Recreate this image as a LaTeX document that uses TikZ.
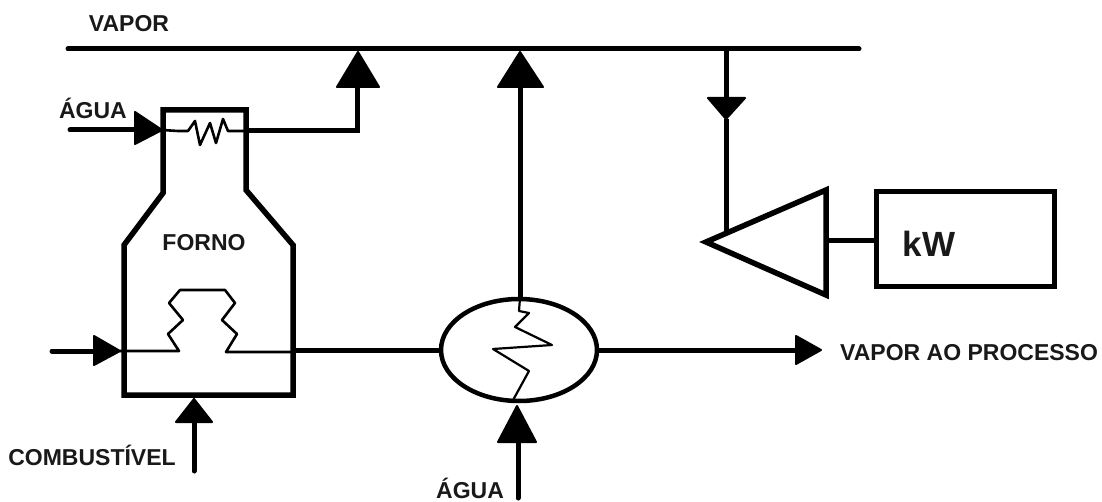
\documentclass[tikz,border=0pt]{standalone}
\usepackage{fontspec}
\usetikzlibrary{shapes.geometric}
\setmainfont{Liberation Sans}
\tikzset{
  thick line/.style={draw=black,line width=5pt,line cap=round,line join=miter},
  outline/.style={draw=black,line width=5.5pt,line join=miter},
  thin coil/.style={draw=black,line width=2.6pt,line join=round},
  head/.style={fill=black,draw=black,line width=2pt,line join=round},
  lbl/.style={font=\fontsize{23}{23}\bfseries\selectfont,inner sep=0pt,anchor=base,text=black!90}
}
\begin{document}
\begin{tikzpicture}[x=1pt,y=-1pt]
\useasboundingbox[fill=white] (0,0) rectangle (1102,502);
% bus
\coordinate (busL) at (68,49);
\coordinate (busR) at (859,49);
\draw[thick line] (busL) -- (busR);
% labels
\node[lbl] (vapor) at (129,32) {VAPOR};
\node[lbl] (aguaTop) at (93,119) {ÁGUA};
\node[lbl] (forno) at (204,251) {FORNO};
\node[lbl] (comb) at (92,465) {COMBUSTÍVEL};
\node[lbl] (aguaBot) at (470,498) {ÁGUA};
\node[lbl,anchor=base west] (proc) at (840,360) {VAPOR AO PROCESSO};
% furnace
\coordinate (f1) at (163,110); \coordinate (f2) at (246,110);
\coordinate (f3) at (246,190); \coordinate (f4) at (293,245);
\coordinate (f5) at (293,395); \coordinate (f6) at (124,395);
\coordinate (f7) at (124,245); \coordinate (f8) at (163,193);
\draw[outline] (f1) -- (f2) -- (f3) -- (f4) -- (f5) -- (f6) -- (f7) -- (f8) -- cycle;
% top water in + coil
\coordinate (wS) at (70,130); \coordinate (wH) at (135,130); \coordinate (wE) at (162,130);
\draw[thick line] (wS) -- (wH);
\draw[head] (135,112) -- (wE) -- (135,144) -- cycle;
\coordinate (cE) at (246,131);
\draw[thin coil] (wE) -- (178,131) -- (188,131) -- (195,121) -- (200,145) -- (210,123) -- (216,143) -- (223,119) -- (228,131) -- (cE);
\coordinate (c0) at (246,131); \coordinate (c1) at (357,131); \coordinate (c2) at (357,87);
\draw[thick line,line cap=butt] (c0) -- (c1) -- (c2);
\coordinate (a1) at (358,52);
\draw[head] (337,87) -- (a1) -- (379,87) -- cycle;
% riser
\coordinate (rB) at (520,300); \coordinate (rT) at (520,87); \coordinate (a2) at (520,52);
\draw[thick line,line cap=butt] (rB) -- (rT);
\draw[head] (498,87) -- (a2) -- (543,87) -- cycle;
% turbine feed
\coordinate (tA) at (726,49); \coordinate (tB) at (726,98); \coordinate (tC) at (726,119); \coordinate (tD) at (726,232);
\draw[thick line,line cap=butt] (tA) -- (tB);
\draw[thick line,line cap=butt] (tC) -- (tD);
\draw[head] (708,98) -- (tC) -- (745,98) -- cycle;
% turbine
\coordinate (t1) at (706,242); \coordinate (t2) at (826,190); \coordinate (t3) at (826,295);
\coordinate (tS) at (826,241);
\draw[outline] (t1) -- (t2) -- (t3) -- cycle;
% kW
\node[draw=black,line width=5pt,minimum width=178pt,minimum height=95pt,inner sep=0pt] (kw) at (965,239.5) {};
\node[font=\fontsize{35}{35}\bfseries\selectfont,text=black!90,inner sep=0pt,anchor=base] (kwt) at (929,257) {kW};
\draw[thick line,line cap=butt] (tS) -- (tS -| kw.west);
% furnace inlet and coil
\coordinate (iS) at (52,351); \coordinate (iH) at (93,351); \coordinate (iE) at (120,351);
\draw[thick line] (iS) -- (iH);
\draw[head] (94,336) -- (iE) -- (94,365) -- cycle;
\draw[thin coil] (iE) -- (179,351) -- (168,334) -- (183,320) -- (169,303) -- (180,290) -- (225,290) -- (235,303) -- (222,320) -- (237,334) -- (226,352) -- (293,352);
% exchanger
\node[draw=black,line width=4.5pt,ellipse,minimum width=156pt,minimum height=102pt,inner sep=0pt,fill=white] (hx) at (519,350) {};
\coordinate (fO) at (293,350);
\draw[thick line,line cap=butt] (fO) -- (hx.west);
\coordinate (hE) at (796,350); \coordinate (hH) at (821,350);
\draw[thick line,line cap=butt] (hx.east) -- (hE);
\draw[head] (796,336) -- (hH) -- (796,364) -- cycle;
\draw[thin coil,line width=2.2pt] (520,298) -- (519,311) -- (529,313) -- (515,327) -- (552,345) -- (493,349) -- (529,371) -- (512,402);
% water under exchanger
\coordinate (bS) at (518,498); \coordinate (bH) at (518,442); \coordinate (bA) at (517,406);
\draw[thick line] (bS) -- (bH);
\draw[head] (498,442) -- (bA) -- (536,442) -- cycle;
% fuel
\coordinate (cS) at (194,471); \coordinate (cH) at (194,422); \coordinate (cA) at (194,399);
\draw[thick line] (cS) -- (cH);
\draw[head] (176,422) -- (cA) -- (212,422) -- cycle;
\end{tikzpicture}
\end{document}
